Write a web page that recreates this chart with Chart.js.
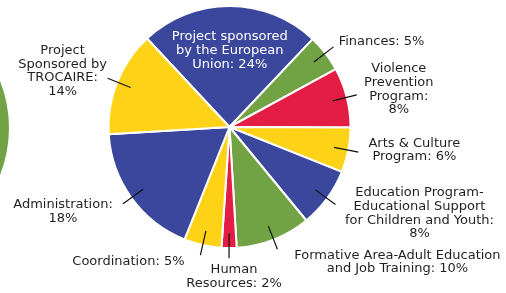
<!DOCTYPE html>
<html>
<head>
<meta charset="utf-8">
<script src="https://cdn.jsdelivr.net/npm/chart.js@4/dist/chart.umd.min.js"></script>
<style>
html,body{margin:0;padding:0;background:#fff;overflow:hidden;}
#wrap{position:relative;width:506px;height:293px;}
#deco{position:absolute;width:254px;height:254px;border-radius:50%;background:#71a244;left:-245px;top:1px;}
canvas{position:absolute;left:0;top:0;}
</style>
</head>
<body>
<div id="wrap">
<div id="deco"></div>
<canvas id="c" width="506" height="293"></canvas>
</div>
<script>
// Data
const categories = [
  ["Project sponsored","by the European","Union: 24%"],
  ["Finances: 5%"],
  ["Violence","Prevention","Program:","8%"],
  ["Arts & Culture","Program: 6%"],
  ["Education Program-","Educational Support","for Children and Youth:","8%"],
  ["Formative Area-Adult Education","and Job Training: 10%"],
  ["Human","Resources: 2%"],
  ["Coordination: 5%"],
  ["Administration:","18%"],
  ["Project","Sponsored by","TROCAIRE:","14%"]
];
const values = [24, 5, 8, 6, 8, 10, 2, 5, 18, 14];

// Styles
const BLUE = '#3b479c', YELLOW = '#fed217', GREEN = '#71a244', RED = '#e31d44';
const colors = [BLUE, GREEN, RED, YELLOW, BLUE, GREEN, RED, YELLOW, BLUE, YELLOW];
// label placement: inside (r fraction) or leader line with text offset from line end
const labelStyle = [
  {inside:0.63},
  {dx:48, dy:-5},
  {dx:42, dy:-5.5},
  {dx:56, dy:-2},
  {dx:84, dy:9},
  {dx:120, dy:13},
  {dx:5, dy:18.5},
  {dx:-72, dy:7},
  {dx:-60, dy:7.5},
  {dx:-45, dy:-7}
];
const LINE_IN = 0.88, LINE_OUT = 1.085, LH = 13.7;
const FONT = '13px "DejaVu Sans"';

const labelPlugin = {
  id: 'labels',
  afterDatasetsDraw(chart) {
    const ctx = chart.ctx;
    const meta = chart.getDatasetMeta(0);
    ctx.save();
    ctx.font = FONT;
    ctx.textAlign = 'center';
    ctx.textBaseline = 'middle';
    meta.data.forEach((arc, i) => {
      const {x, y, startAngle, endAngle, outerRadius} = arc.getProps(['x','y','startAngle','endAngle','outerRadius'], true);
      const mid = (startAngle + endAngle) / 2;
      const st = labelStyle[i];
      const lines = categories[i];
      let cx, cy;
      if (st.inside) {
        cx = x + Math.cos(mid) * outerRadius * st.inside;
        cy = y + Math.sin(mid) * outerRadius * st.inside;
        ctx.fillStyle = '#ffffff';
      } else {
        const x1 = x + Math.cos(mid) * outerRadius * LINE_IN;
        const y1 = y + Math.sin(mid) * outerRadius * LINE_IN;
        const x2 = x + Math.cos(mid) * outerRadius * LINE_OUT;
        const y2 = y + Math.sin(mid) * outerRadius * LINE_OUT;
        ctx.strokeStyle = '#111';
        ctx.lineWidth = 1.2;
        ctx.beginPath();
        ctx.moveTo(x1, y1);
        ctx.lineTo(x2, y2);
        ctx.stroke();
        cx = x2 + st.dx;
        cy = y2 + st.dy;
        ctx.fillStyle = '#231f20';
      }
      const top = cy - (lines.length - 1) * LH / 2;
      lines.forEach((t, k) => ctx.fillText(t, cx, top + k * LH));
    });
    ctx.restore();
  }
};

new Chart(document.getElementById('c'), {
  type: 'pie',
  data: {
    labels: categories.map(l => l.join(' ')),
    datasets: [{
      data: values,
      backgroundColor: colors,
      borderColor: '#ffffff',
      borderWidth: 2,
      hoverOffset: 0,
      offset: 0
    }]
  },
  options: {
    responsive: false,
    animation: false,
    events: [],
    rotation: -43,
    layout: {padding: {left: 107, right: 154, top: 5, bottom: 44}},
    plugins: {legend: {display: false}, tooltip: {enabled: false}}
  },
  plugins: [labelPlugin]
});
</script>
</body>
</html>
